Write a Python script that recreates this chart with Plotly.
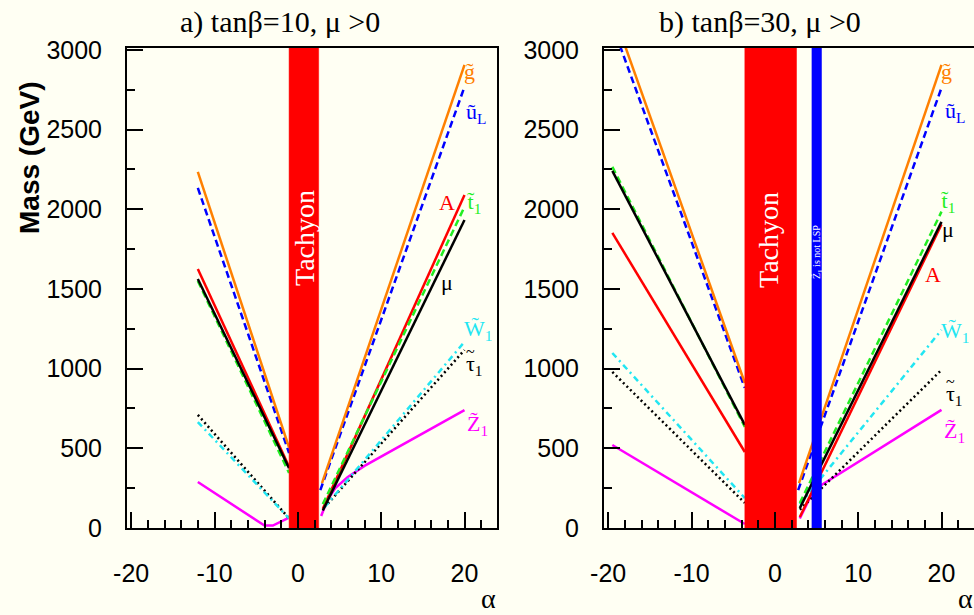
import plotly.graph_objects as go

# ---------------- data ----------------
# panel a) tanbeta=10, mu>0
gl_a_x = [-12, -1.05, None, 2.9, 20]
gl_a_y = [2235, 505, None, 282, 2906]
uL_a_x = [-12, -1.05, None, 2.7, 20]
uL_a_y = [2134, 470, None, 238, 2768]
A_a_x = [-12, -1.05, None, 3.0, 20]
A_a_y = [1625, 385, None, 120, 2090]
t1_a_x = [-12, -1.05, None, 3.0, 20]
t1_a_y = [1550, 345, None, 150, 2015]
mu_a_x = [-12, -1.05, None, 3.0, 20]
mu_a_y = [1563, 375, None, 110, 1933]
W1_a_x = [-12, -1.05, None, 3.2, 20]
W1_a_y = [665, 60, None, 130, 1168]
tau1_a_x = [-12, -1.05, None, 3.2, 20]
tau1_a_y = [710, 60, None, 130, 1117]
Z1_a_x = [-12, -4, -3, -1.05, None, 2.8, 3.5, 4.5, 6.0, 8.0, 20]
Z1_a_y = [289, 15, 15, 65, None, 75, 170, 250, 320, 390, 740]

# panel b) tanbeta=30, mu>0
gl_b_x = [-19.5, -3.6, None, 2.9, 20]
gl_b_y = [3250, 910, None, 282, 2906]
uL_b_x = [-19.5, -3.6, None, 2.8, 20]
uL_b_y = [3157, 879, None, 238, 2762]
t1_b_x = [-19.5, -3.6, None, 3.0, 20]
t1_b_y = [2266, 634, None, 157, 1985]
mu_b_x = [-19.5, -3.6, None, 3.0, 20]
mu_b_y = [2241, 647, None, 125, 1921]
A_b_x = [-19.5, -4.0, -3.6, None, 3.0, 20]
A_b_y = [1852, 508, 477, None, 69, 1905]
W1_b_x = [-19.5, -3.6, None, 3.0, 20]
W1_b_y = [1098, 188, None, 150, 1243]
tau1_b_x = [-19.5, -3.6, None, 3.0, 20]
tau1_b_y = [979, 157, None, 115, 992]
Z1_b_x = [-19.5, -3.6, None, 3.0, 4.5, 5.6, 20]
Z1_b_y = [521, 25, None, 60, 220, 270, 741]

# excluded regions (alpha ranges)
tachyon_a = [-1.05, 2.5]
tachyon_b = [-3.6, 2.6]
notlsp_b = [4.45, 5.6]

x_ticks = [-20, -10, 0, 10, 20]
x_ticktext = ["-20", "-10", "0", "10", "20"]
y_ticks = [0, 500, 1000, 1500, 2000, 2500, 3000]

# ---------------- style ----------------
BG = "#fffff3"
ORANGE = "#ff8000"
BLUE = "#0000ff"
RED = "#ff0000"
GREEN = "#22ee22"
BLACK = "#000000"
CYAN = "#22e6f2"
MAGENTA = "#ff00ff"
LW = 2.5

W, H = 974, 615
def px(x):
    return x / W
def py(y):
    return 1 - y / H

fig = go.Figure()

def line(x, y, color, dash, xa, ya):
    fig.add_trace(go.Scatter(x=x, y=y, mode="lines", xaxis=xa, yaxis=ya,
                             line=dict(color=color, width=LW, dash=dash),
                             showlegend=False, hoverinfo="skip"))

def band(rng, color, xa, ya):
    x0, x1 = rng
    fig.add_trace(go.Scatter(x=[x0, x1, x1, x0, x0], y=[0, 0, 3100, 3100, 0],
                             mode="lines", fill="toself", fillcolor=color,
                             line=dict(color=color, width=0.5), xaxis=xa, yaxis=ya,
                             showlegend=False, hoverinfo="skip"))

DASH = "7px,4px"
DOT = "2px,3px"
DASHDOT = "6px,4px,2px,4px"

for xa, ya, S in [("x", "y", dict(gl=(gl_a_x, gl_a_y), uL=(uL_a_x, uL_a_y), A=(A_a_x, A_a_y),
                                  t1=(t1_a_x, t1_a_y), mu=(mu_a_x, mu_a_y), W1=(W1_a_x, W1_a_y),
                                  tau1=(tau1_a_x, tau1_a_y), Z1=(Z1_a_x, Z1_a_y))),
                  ("x2", "y2", dict(gl=(gl_b_x, gl_b_y), uL=(uL_b_x, uL_b_y), A=(A_b_x, A_b_y),
                                    t1=(t1_b_x, t1_b_y), mu=(mu_b_x, mu_b_y), W1=(W1_b_x, W1_b_y),
                                    tau1=(tau1_b_x, tau1_b_y), Z1=(Z1_b_x, Z1_b_y)))]:
    line(*S["Z1"], MAGENTA, "solid", xa, ya)
    line(*S["tau1"], BLACK, DOT, xa, ya)
    line(*S["W1"], CYAN, DASHDOT, xa, ya)
    line(*S["A"], RED, "solid", xa, ya)
    line(*S["t1"], GREEN, DASH, xa, ya)
    line(*S["mu"], BLACK, "solid", xa, ya)
    line(*S["uL"], BLUE, DASH, xa, ya)
    line(*S["gl"], ORANGE, "solid", xa, ya)

band(tachyon_a, RED, "x", "y")
band(tachyon_b, RED, "x2", "y2")
band(notlsp_b, BLUE, "x2", "y2")

tickfont = dict(family="Liberation Sans, Arial, sans-serif", size=25, color="black")
xr = [-20.5, 23.9]
yr = [0, 3012]
ydom = [py(528), py(48)]

common_x = dict(range=xr, tickvals=x_ticks, ticktext=x_ticktext, ticks="inside", ticklen=16,
                tickwidth=1.5, automargin=False,
                tickcolor="black", showline=True, linecolor="black", linewidth=2,
                mirror=True, showgrid=False, zeroline=False, tickfont=tickfont,
                ticklabelstandoff=22,
                minor=dict(dtick=2, ticks="inside", ticklen=8, tickwidth=1.5, tickcolor="black",
                           showgrid=False))
common_y = dict(range=yr, tickvals=y_ticks, ticks="inside", ticklen=16, tickwidth=1.5,
                automargin=False,
                tickcolor="black", showline=True, linecolor="black", linewidth=2,
                mirror=True, showgrid=False, zeroline=False, tickfont=tickfont,
                ticklabelstandoff=18,
                minor=dict(dtick=250, ticks="inside", ticklen=8, tickwidth=1.5, tickcolor="black",
                           showgrid=False))

fig.update_layout(
    width=W, height=H, margin=dict(l=0, r=0, t=0, b=0),
    paper_bgcolor=BG, plot_bgcolor=BG,
    xaxis=dict(domain=[px(127), px(497)], anchor="y", **common_x),
    yaxis=dict(domain=ydom, anchor="x", **common_y),
    xaxis2=dict(domain=[px(604), 1.0], anchor="y2", **common_x),
    yaxis2=dict(domain=ydom, anchor="x2", **common_y),
)

serif = "Liberation Serif, Times New Roman, serif"
ann = []
def text(x, y, s, size, color="black", family=serif, angle=0, xref="paper", yref="paper"):
    ann.append(dict(x=x, y=y, xref=xref, yref=yref, text=s, showarrow=False,
                    font=dict(family=family, size=size, color=color), textangle=angle,
                    xanchor="center", yanchor="middle"))

text(px(280), py(22), "a) tanβ=10, μ >0", 30)
text(px(760), py(22), "b) tanβ=30, μ >0", 30)
text(px(30), py(158), "<b>Mass (GeV)</b>", 28, family="Liberation Sans, Arial, sans-serif", angle=-90)
text(px(488), py(598), "α", 28)
text(px(965), py(598), "α", 28)
text(px(305), py(238), "Tachyon", 28, color="white", angle=-90)
text(px(768), py(240), "Tachyon", 28, color="white", angle=-90)
text(px(817), py(252), "Z\u0303<sub>1</sub> is not LSP", 10, color="white", angle=-90)

labels_a = [(20.65, 2862, "g\u0303", ORANGE), (21.4, 2605, "u\u0303<sub>L</sub>", BLUE),
            (17.9, 2040, "A", RED), (21.1, 2040, "t\u0303<sub>1</sub>", GREEN),
            (17.9, 1538, "μ", BLACK), (21.6, 1243, "W\u0303<sub>1</sub>", CYAN),
            (21.2, 1023, "τ<sub>1</sub>", BLACK), (21.5, 647, "Z\u0303<sub>1</sub>", MAGENTA)]
labels_b = [(20.65, 2862, "g\u0303", ORANGE), (21.6, 2611, "u\u0303<sub>L</sub>", BLUE),
            (20.8, 2045, "t\u0303<sub>1</sub>", GREEN), (20.8, 1875, "μ", BLACK),
            (19.0, 1588, "A", RED), (21.6, 1230, "W\u0303<sub>1</sub>", CYAN),
            (21.6, 835, "τ<sub>1</sub>", BLACK), (21.6, 603, "Z\u0303<sub>1</sub>", MAGENTA)]
for (a, m, s, c) in labels_a:
    text(a, m, s, 22, color=c, xref="x", yref="y")
for (a, m, s, c) in labels_b:
    text(a, m, s, 22, color=c, xref="x2", yref="y2")
# tildes over the tau labels
text(20.7, 1110, "~", 16, xref="x", yref="y")
text(21.1, 922, "~", 16, xref="x2", yref="y2")

fig.update_layout(annotations=ann)
fig.write_html("out.html")
